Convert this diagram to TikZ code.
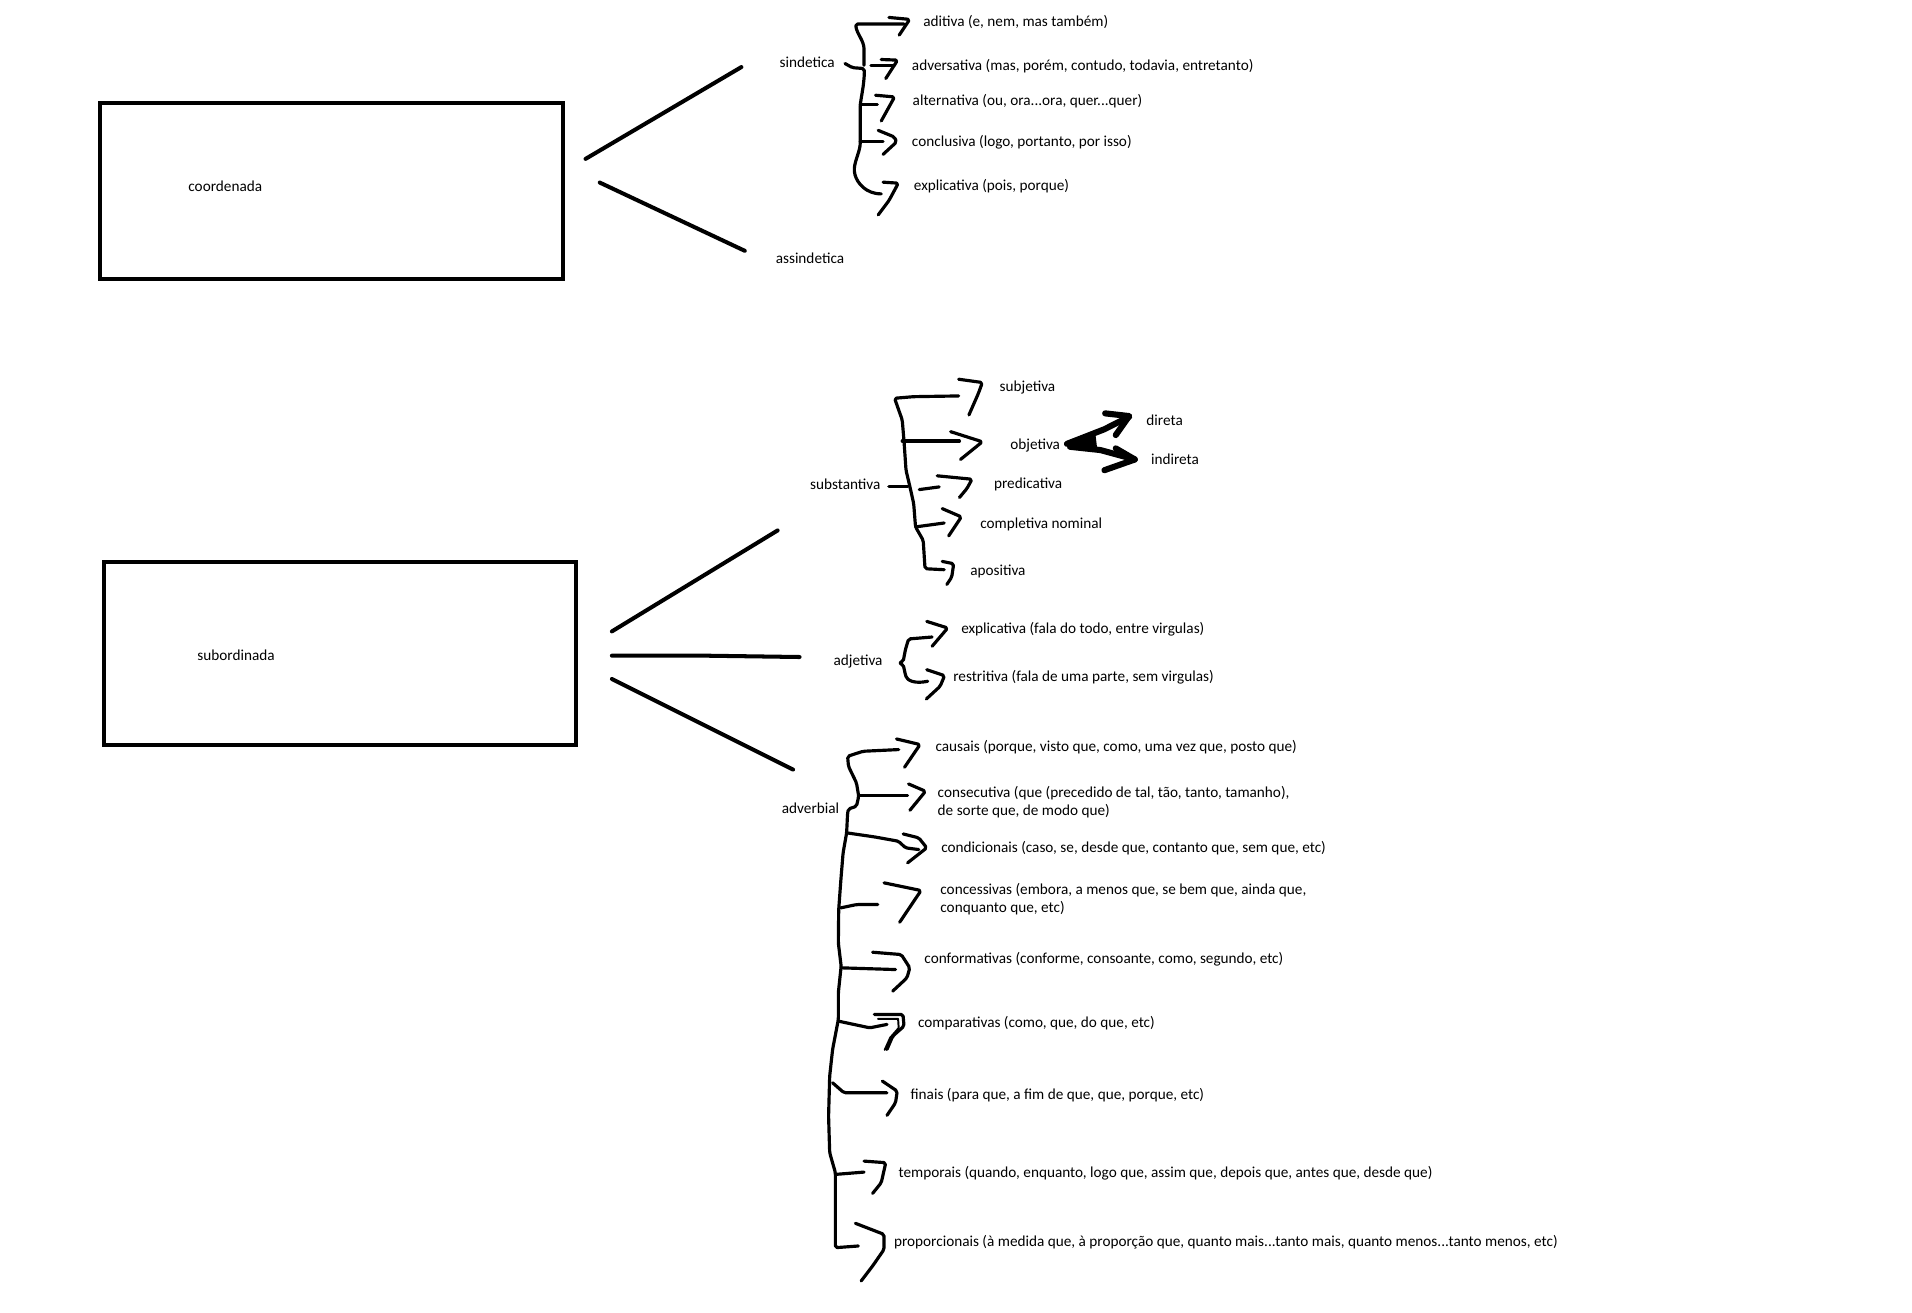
\documentclass[tikz,border=0pt]{standalone}
\usepackage{fontspec}
\setmainfont{Carlito}
\begin{document}
\begin{tikzpicture}[x=1pt,y=-1pt,
  lbl/.style={anchor=west,inner sep=0pt,font=\fontsize{12.5}{15}\selectfont},
  heavy/.style={line width=3.3pt,line cap=round,line join=round},
  hand/.style={line width=2.6pt,line cap=round,line join=round,rounded corners=1.5pt},
  bold/.style={line width=5pt,line cap=round,line join=round},
  boxnode/.style={draw,line width=3.3pt,inner sep=0pt,anchor=north west}]
\useasboundingbox[fill=white] (0,0) rectangle (1568,1076);

% boxes
\node[boxnode,minimum width=380pt,minimum height=144.5pt] (coordbox) at (80,82.5) {};
\node[boxnode,minimum width=387.4pt,minimum height=149.7pt] (subbox) at (83.4,459.6) {};
\node[lbl] (coord) at (154.3,152.5) {coordenada};
\node[lbl] (subord) at (161.7,537) {subordinada};

% main connectors
\draw[heavy] (480.2,130.3) -- (608,55);
\draw[heavy] (491.8,149.7) -- (610.8,205.7);
\draw[heavy] (501.8,517.8) -- (637.7,435);
\draw[heavy] (501.8,537.7) -- (578,537.7) -- (655.7,538.8);
\draw[heavy] (501.8,556.8) -- (650.4,631.1);

% labels level 1
\node[lbl] (sind) at (639.2,51.3) {sindetica};
\node[lbl] (assind) at (636,211.6) {assindetica};
\node[lbl] (subst) at (664.2,397) {substantiva};
\node[lbl] (adj) at (683.4,542.3) {adjetiva};
\node[lbl] (adv) at (641,662.8) {adverbial};

% sindetica items
\node[lbl] at (757,17.8) {aditiva (e, nem, mas também)};
\node[lbl] at (747.7,54) {adversativa (mas, porém, contudo, todavia, entretanto)};
\node[lbl] at (748.3,82.8) {alternativa (ou, ora...ora, quer...quer)};
\node[lbl] at (747.7,116.5) {conclusiva (logo, portanto, por isso)};
\node[lbl] at (749.3,152.7) {explicativa (pois, porque)};

% sindetica brace
\draw[hand] (741.4,19.7) -- (701.7,19.7) .. controls (702.5,28) and (708.6,33) .. (708.6,42) -- (708.6,53.5);
\draw[hand] (693,52.1) -- (699,55.5) -- (708.6,56.2) .. controls (709,60) and (708.6,64) .. (708,70) -- (705.5,85.5) -- (705.5,117.9) .. controls (704.5,126) and (700,134) .. (700.8,142) .. controls (703,150) and (710,159) .. (722.7,159);
\draw[hand] (729,14.3) -- (746,15.9) -- (737.4,28.8);
\draw[hand] (714.2,53.5) -- (733.6,53.5);
\draw[hand] (722.7,48.8) -- (736.1,49.3) -- (726.4,64.4);
\draw[hand] (705.5,85.5) -- (719.5,85.5);
\draw[hand] (718,78.1) -- (733.6,79.5) -- (722.7,99.2);
\draw[hand] (705.5,116) -- (724.2,116);
\draw[hand] (720.2,106.9) -- (733.6,112.4) -- (735.2,116.5) -- (724.2,126.6);
\draw[hand] (724.2,149.4) -- (736.7,150.2) -- (729,164.5) -- (720.2,176.2);

% substantiva items
\node[lbl] (subj) at (819.6,318) {subjetiva};
\node[lbl] (obj) at (828.4,365) {objetiva};
\node[lbl] (dir) at (940,344.4) {direta};
\node[lbl] (ind) at (943.8,376.8) {indireta};
\node[lbl] at (815,397) {predicativa};
\node[lbl] at (803.7,430) {completiva nominal};
\node[lbl] at (795.5,468.6) {apositiva};

\draw[hand] (786.2,324.7) -- (749.3,325.3) -- (733.6,326.6) -- (739.9,344.4) -- (741.4,362.3) -- (743,385.6) -- (746.1,398.7) -- (749.3,413) -- (750.8,432.1) -- (757.1,443.1) -- (758.6,466.4) -- (774.3,467.2);
\draw[hand] (786.2,311) -- (805.6,313.7) -- (802.4,322.5) -- (794.6,340.3);
\draw[hand] (739.9,361.7) -- (786.8,361.7);
\draw[hand] (779.6,354) -- (805.6,362.3) -- (787.7,376.8);
\draw[hand] (728.9,398.7) -- (744.6,398.7);
\draw[hand] (753.9,401.5) -- (770.2,399.3);
\draw[hand] (768.6,390.2) -- (797.1,393) -- (793,400.6) -- (786.8,408);
\draw[hand] (750.8,432.1) -- (774.3,428.9);
\draw[hand] (772.7,417.1) -- (788.4,423.9) -- (778,439.5);
\draw[hand] (772.7,460.4) -- (782.1,462.3) -- (780.5,473.3) -- (776.5,479.3);

% objetiva -> direta / indireta
\fill (874,362) -- (898,353) -- (900,370) -- (877,368) -- cycle;
\draw[bold] (875,364) -- (905.7,352) -- (926,341.7);
\draw[bold] (906.3,339) -- (926,341.2) -- (915,356.8);
\draw[bold] (877.5,366.4) -- (902.5,369.1) -- (930.7,376.8);
\draw[bold] (915,367.7) -- (930.7,376.8) -- (905.7,385.6);

% adjetiva
\node[lbl] at (788.1,516.4) {explicativa (fala do todo, entre virgulas)};
\node[lbl] at (781.6,555.5) {restritiva (fala de uma parte, sem virgulas)};
\draw[hand] (764.4,522.4) -- (745.1,524) -- (742.5,532.8) -- (740.7,542.3) -- (737,543.7) -- (740.7,545.1) -- (742.5,553.3) .. controls (744,558) and (750,561) .. (760.8,558.7);
\draw[hand] (760,509.6) -- (777.2,515) -- (764.4,530);
\draw[hand] (760,549.2) -- (774.6,554.1) -- (771,562.8) -- (759.7,573.2);

% adverbial
\node[lbl] at (767,612.8) {causais (porque, visto que, como, uma vez que, posto que)};
\node[lbl,align=left] at (768.8,657.8) {consecutiva (que (precedido de tal, tão, tanto, tamanho),\\de sorte que, de modo que)};
\node[lbl] at (771.7,695.3) {condicionais (caso, se, desde que, contanto que, sem que, etc)};
\node[lbl,align=left] at (771,737.6) {concessivas (embora, a menos que, se bem que, ainda que,\\conquanto que, etc)};
\node[lbl] at (757.9,786.9) {conformativas (conforme, consoante, como, segundo, etc)};
\node[lbl] at (752.7,839.3) {comparativas (como, que, do que, etc)};
\node[lbl] at (746.6,898.3) {finais (para que, a fim de que, que, porque, etc)};
\node[lbl] at (736.7,962.3) {temporais (quando, enquanto, logo que, assim que, depois que, antes que, desde que)};
\node[lbl] at (733,1019.1) {proporcionais (à medida que, à proporção que, quanto mais...tanto mais, quanto menos...tanto menos, etc)};

\draw[hand] (737,614.7) -- (707.8,616.1) -- (695.1,620.2) -- (695.8,628.4) -- (702.4,642.1) -- (704.2,653) -- (702.4,661.2) -- (695.8,663.4) -- (695.1,666.6) -- (694.3,683) -- (691.4,699.4) -- (689.6,721.3) -- (687.8,745.9) -- (687.5,773.2) -- (689.8,792.3) -- (687.5,814.2) -- (687.5,836.1) -- (682.8,860.6) -- (680.4,882.5) -- (679.5,915.3) -- (680.4,945.3) -- (685.1,961.7) -- (685.1,1023.2) -- (703.9,1021.8);
\draw[hand] (735.2,606) -- (754.5,610.6) -- (741.8,629.2);
\draw[hand] (704.2,652.4) -- (744.3,652.4);
\draw[hand] (745.1,642.9) -- (759,648.9) -- (746.2,664.5);
\draw[hand] (694.3,683) -- (717,686.3) -- (737,689.9) -- (742.5,695.3) -- (753.5,696.7);
\draw[hand] (740.7,683.9) -- (753.5,687.1) -- (760,695.3) -- (744.3,707.6);
\draw[hand] (689.6,744.5) -- (702.4,741.8) -- (719.9,741.8);
\draw[hand] (725,724) -- (755.3,730.3) -- (737.8,756.3);
\draw[hand] (689.8,793.7) -- (734.4,795.1);
\draw[hand] (715.6,780.9) -- (739.1,782.8) -- (746.1,793.7) -- (743.8,801.9) -- (732.1,812.8);
\draw[hand] (687.5,837.4) -- (713.3,842.9) -- (727.4,840.1);
\draw[hand] (717,831.9) -- (740.5,831.9) -- (741.4,841.5) -- (732.1,849.7) -- (727.4,860.6);
\draw[line width=1.6pt,line cap=round,line join=round] (720,835.5) -- (736.5,835.5) -- (737,843) -- (730,851) -- (725.5,861);
\draw[hand] (682.8,888) -- (692.2,896.2) -- (727.4,896.2);
\draw[hand] (723.6,886.6) -- (735.8,894.8) -- (734.4,904.4) -- (727.4,914.7);
\draw[hand] (685.1,963.1) -- (708.6,961.2);
\draw[hand] (708.6,952.2) -- (726.4,953.5) -- (722.7,969.9) -- (715.6,978.7);
\draw[hand] (701.5,1003.2) -- (725,1012.3) -- (725,1024.6) -- (715.6,1038.2) -- (706.2,1050.5);
\end{tikzpicture}
\end{document}
